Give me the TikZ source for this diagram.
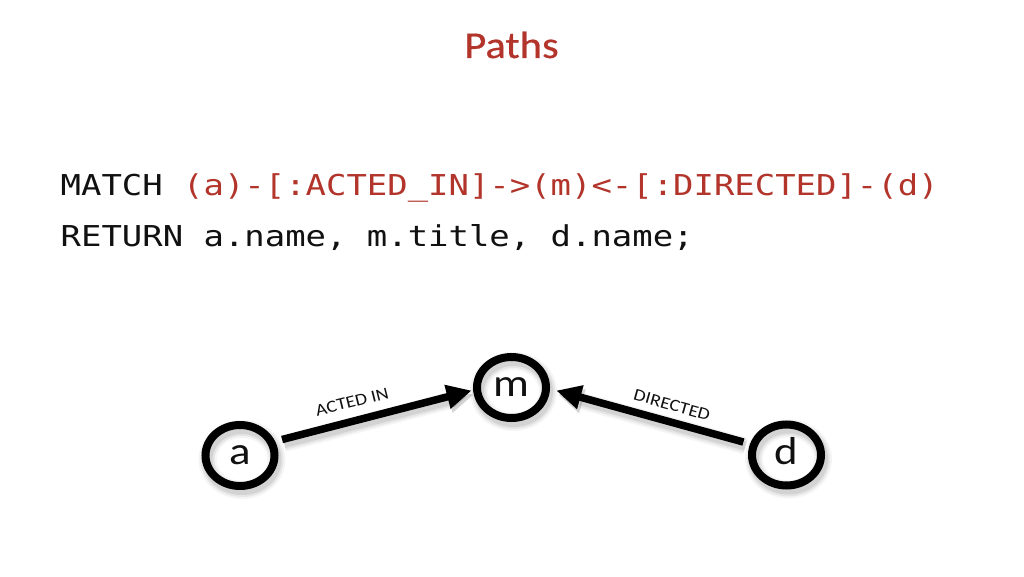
\documentclass[tikz,border=0pt]{standalone}
\usepackage{fontspec}
\usetikzlibrary{arrows.meta,shapes.geometric}
\newfontfamily\codefont[FakeStretch=1.18]{DejaVu Sans Mono}
\newfontfamily\gillfont[FakeStretch=1.15]{Carlito}
\newfontfamily\titlefont[FakeStretch=1.12,FakeBold=0.6]{Carlito}
\definecolor{cypherred}{RGB}{178,52,42}
\definecolor{inkblack}{RGB}{17,17,17}
\pgfdeclarelayer{bg}
\pgfsetlayers{bg,main}
\tikzset{
  vnode/.style={ellipse, draw=black, line width=8pt, minimum width=69pt,
    minimum height=61pt, inner sep=0pt, text=inkblack,
    font=\gillfont\fontsize{39}{42}\selectfont, text height=18pt, text depth=0pt},
  rel/.style={draw=black, line width=7.5pt, line cap=butt,
    -{Triangle[length=25pt,width=23pt]}},
  rellabel/.style={inner sep=0pt, text=inkblack, font=\gillfont\fontsize{17}{20}\selectfont},
  codeline/.style={anchor=base west, inner sep=0pt, text=inkblack,
    font=\codefont\fontsize{28.74}{32}\selectfont},
  softshadow/.style={draw=black, opacity=#1},
}
\begin{document}
\begin{tikzpicture}[x=1pt,y=1pt]
\useasboundingbox (0,0) rectangle (1024,576);

% title
\node[anchor=base, inner sep=0pt, text=cypherred,
  font=\titlefont\fontsize{38}{42}\selectfont] (title) at (511.5,518) {Paths};

% code
\node[codeline] (matchline) at (60.5,380)
  {MATCH \textcolor{cypherred}{(a)-[:ACTED\_IN]->(m)<-[:DIRECTED]-(d)}};
\node[codeline] (returnline) at (60.5,329) {RETURN a.name, m.title, d.name;};

% nodes
\node[vnode] (a) at (240,120.5) {a};
\node[vnode] (m) at (511.5,188.5) {m};
\node[vnode] (d) at (786.5,121) {d};

% relationships
\draw[rel, shorten <=7.2pt, shorten >=1.5pt] (a.22.4) -- (m.184.6);
\draw[rel, shorten <=6.9pt, shorten >=6.5pt] (d.163) -- (m.-2);

% labels
\node[rellabel, rotate=14] (actedin) at (352,174.3) {ACTED IN};
\node[rellabel, rotate=-15.7] (directed) at (672,171) {DIRECTED};

% background and soft shadows
\begin{pgfonlayer}{bg}
  \fill[white] (0,0) rectangle (1024,576);
  \foreach \w/\o in {18/0.04,14/0.06,10/0.08} {
    \draw[softshadow=\o, line width=\w pt] ([shift={(2,-4)}]a.center) ellipse [x radius=34.5, y radius=30.5];
    \draw[softshadow=\o, line width=\w pt] ([shift={(2,-4)}]m.center) ellipse [x radius=34.5, y radius=30.5];
    \draw[softshadow=\o, line width=\w pt] ([shift={(2,-4)}]d.center) ellipse [x radius=34.5, y radius=30.5];
    \draw[softshadow=\o, line width=\w pt-1pt, transform canvas={shift={(2pt,-4pt)}},
      -{Triangle[length=25pt,width=23pt]}, shorten <=7.2pt, shorten >=1.5pt] (a.22.4) -- (m.184.6);
    \draw[softshadow=\o, line width=\w pt-1pt, transform canvas={shift={(2pt,-4pt)}},
      -{Triangle[length=25pt,width=23pt]}, shorten <=6.9pt, shorten >=6.5pt] (d.163) -- (m.-2);
  }
\end{pgfonlayer}
\end{tikzpicture}
\end{document}
